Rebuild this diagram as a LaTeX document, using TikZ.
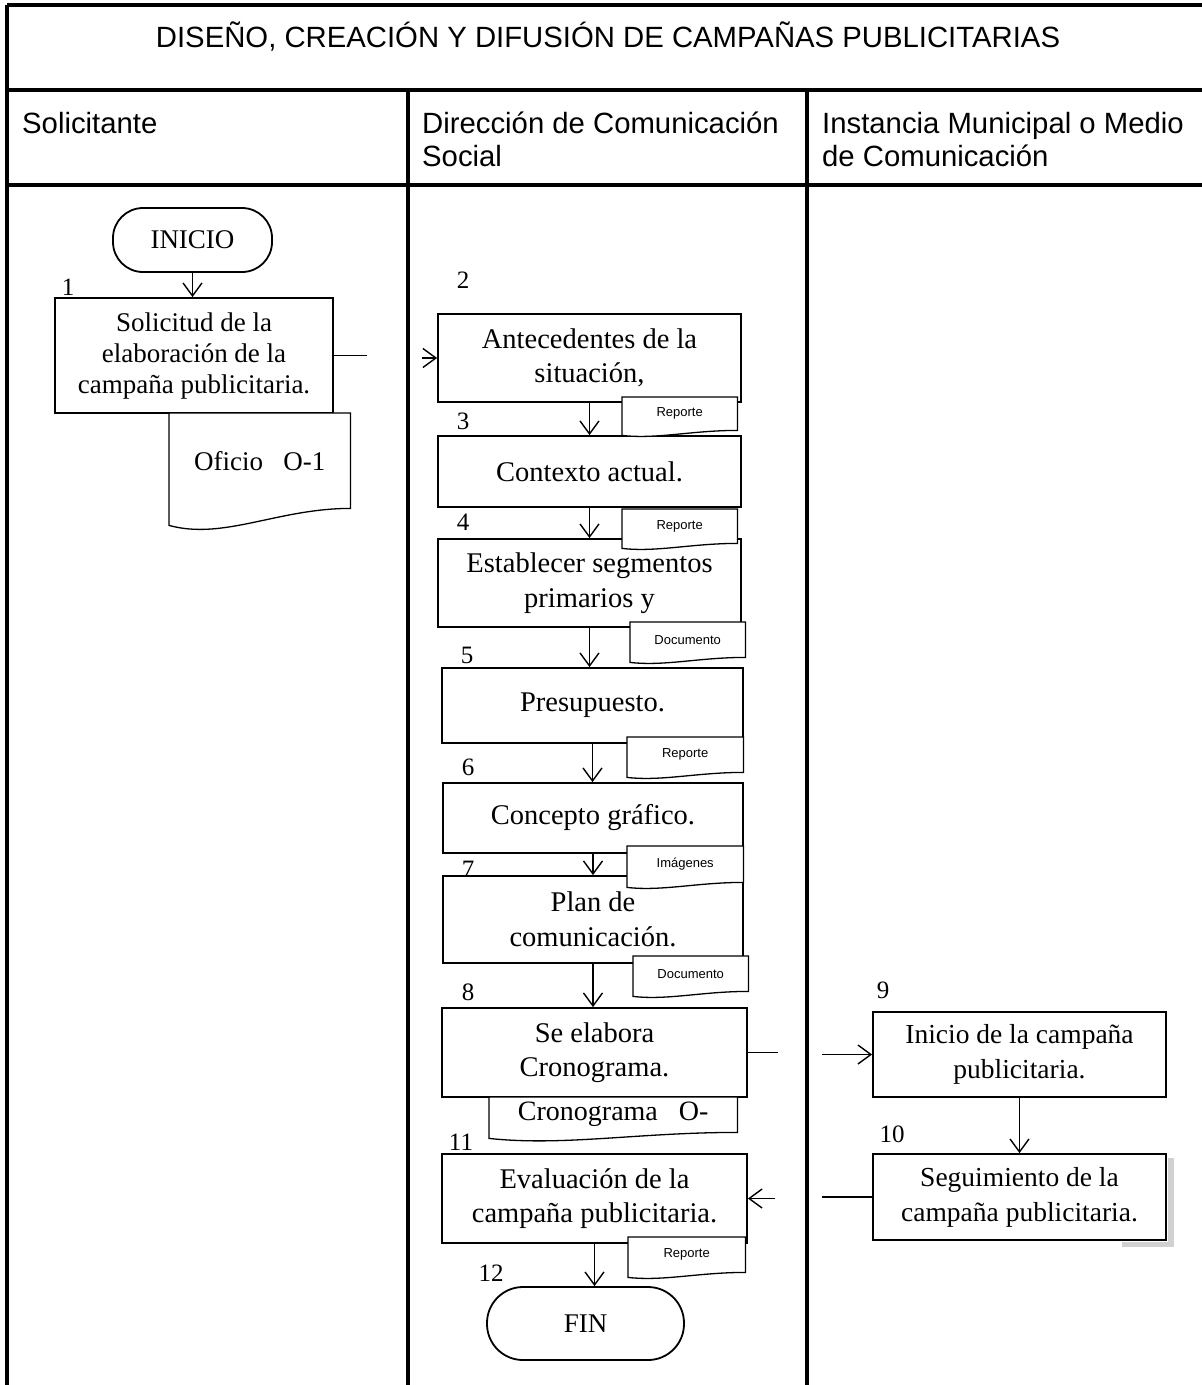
\documentclass[tikz,border=0pt]{standalone}
\usepackage{fontspec}
\setmainfont{Liberation Serif}
\newfontfamily\headfont{Liberation Sans}
\usetikzlibrary{calc,arrows.meta}

\tikzset{
  lane/.style={line width=3.5pt},
  lanehead/.style={anchor=north west, align=left, inner sep=0pt, font=\headfont\fontsize{29.3}{33}\selectfont},
  proc/.style={draw, line width=1.8pt, fill=white, inner sep=0pt, align=center, font=\fontsize{28.5}{34.5}\selectfont},
  term/.style={proc, font=\fontsize{27}{30}\selectfont},
  docbox/.style={inner sep=0pt, anchor=north west},
  doctext/.style={inner sep=0pt, align=center, font=\headfont\fontsize{13}{15}\selectfont},
  num/.style={inner sep=0pt, font=\fontsize{25}{28}\selectfont},
  link/.style={line width=1.4pt},
  flow/.style={link, -{Straight Barb[length=13pt,width=19pt]}},
}

\newcommand{\docwave}[4]{%
  \filldraw[fill=white, line width=1.3pt] (#1.south west) -- (#1.north west) -- (#1.north east)
    -- ($(#1.south east)+(0,-#3)$)
    .. controls ($(#1.south west)!0.6!(#1.south east)+(0,-#3)$)
    and ($(#1.south west)!0.3!(#1.south east)+(0,#2)$) .. (#1.south west) -- cycle;
  \node[doctext] at ($(#1.center)+(0,-#3/2)$) {#4};
}

\begin{document}
\begin{tikzpicture}[x=1pt, y=-1pt]
  \useasboundingbox (0,0) rectangle (1202,1385);

  \draw[lane] (7,5) -- (1202,5);
  \draw[lane] (7,90) -- (1202,90);
  \draw[lane] (7,185) -- (1202,185);
  \draw[lane] (7,5) -- (7,1385);
  \draw[lane] (408,90) -- (408,1385);
  \draw[lane] (807,90) -- (807,1385);

  \node[anchor=base, inner sep=0pt, font=\headfont\fontsize{29.3}{33}\selectfont] (title) at (608,47) {DISEÑO, CREACIÓN Y DIFUSIÓN DE CAMPAÑAS PUBLICITARIAS};
  \node[lanehead] (lane1) at (22,112) {Solicitante};
  \node[lanehead] (lane2) at (422,112) {Dirección de Comunicación\\Social};
  \node[lanehead] (lane3) at (822,112) {Instancia Municipal o Medio\\de Comunicación};

  \node[num] (n1) at (68,287) {1};
  \node[num] (n2) at (463,280) {2};
  \node[num] (n3) at (463,421) {3};
  \node[num] (n4) at (463,522) {4};
  \node[num] (n5) at (467,655) {5};
  \node[num] (n6) at (468,767) {6};
  \node[num] (n7) at (468,869) {7};
  \node[num] (n8) at (468,992) {8};
  \node[num] (n9) at (883,990) {9};
  \node[num] (n10) at (892,1134) {10};
  \node[num] (n11) at (461,1142) {11};
  \node[num] (n12) at (491,1273) {12};

  \node[term, minimum width=159, minimum height=64, rounded corners=30pt] (ini) at (192.5,240) {INICIO};
  \node[proc, minimum width=278, minimum height=115, font=\fontsize{27}{31}\selectfont] (b1) at (194,355.5) {Solicitud de la\\elaboración de la\\campaña publicitaria.};
  \node[proc, minimum width=303, minimum height=88] (b2) at (589.5,358) {Antecedentes de la\\situación,};
  \node[proc, minimum width=303, minimum height=71] (b3) at (589.5,471.5) {Contexto actual.};
  \node[proc, minimum width=303, minimum height=88] (b4) at (589.5,583) {Establecer segmentos\\primarios y};
  \node[proc, minimum width=301, minimum height=75] (b5) at (592.5,705.5) {Presupuesto.};
  \node[proc, minimum width=300, minimum height=70] (b6) at (593,818) {Concepto gráfico.};
  \node[proc, minimum width=300, minimum height=87] (b7) at (593,919.5) {Plan de\\comunicación.};
  \node[proc, minimum width=305, minimum height=89] (b8) at (594.5,1052.5) {Se elabora\\Cronograma.};
  \node[proc, minimum width=293, minimum height=85, font=\fontsize{27.5}{35}\selectfont] (b9) at (1019.5,1054.5) {Inicio de la campaña\\publicitaria.};
  \node[proc, minimum width=293, minimum height=86, font=\fontsize{27.5}{35}\selectfont] (b10) at (1019.5,1197) {Seguimiento de la\\campaña publicitaria.};
  \node[proc, minimum width=305, minimum height=89] (b11) at (594.5,1198.5) {Evaluación de la\\campaña publicitaria.};
  \node[term, minimum width=197, minimum height=73, rounded corners=36pt] (fin) at (585.5,1323.5) {FIN};

  \fill[black!18] ($(b10.north east)+(1,5)$) rectangle ($(b10.south east)+(7,6)$);
  \fill[black!18] ($(b10.south east)+(-45,1)$) rectangle ($(b10.south east)+(7,6)$);

  \node[docbox, minimum width=181, minimum height=112] (d1) at (169,413) {};
  \docwave{d1}{15}{17}{\rmfamily\fontsize{27}{30}\selectfont Oficio~~~O-1}
  \node[docbox, minimum width=115, minimum height=38] (d2) at (622,397) {};
  \docwave{d2}{4}{5}{Reporte}
  \node[docbox, minimum width=115, minimum height=39] (d3) at (622,509) {};
  \docwave{d3}{4}{5}{Reporte}
  \node[docbox, minimum width=115, minimum height=40] (d4) at (630,622) {};
  \docwave{d4}{4}{5}{Documento}
  \node[docbox, minimum width=116, minimum height=40] (d5) at (627,737) {};
  \docwave{d5}{4}{5}{Reporte}
  \node[docbox, minimum width=116, minimum height=41] (d6) at (627,846) {};
  \docwave{d6}{4}{5}{Imágenes}
  \node[docbox, minimum width=115, minimum height=40] (d7) at (633,956) {};
  \docwave{d7}{4}{5}{Documento}
  \node[docbox, minimum width=248, minimum height=41] (d8) at (489,1097) {};
  \docwave{d8}{8}{6}{\rmfamily\fontsize{28}{30}\selectfont Cronograma~~~O-}
  \node[docbox, minimum width=117, minimum height=40] (d11) at (628,1237) {};
  \docwave{d11}{4}{5}{Reporte}

  \coordinate (g1a) at (367,355.5);
  \coordinate (g1b) at (422,358);
  \coordinate (g8a) at (778,1052.5);
  \coordinate (g8b) at (822,1054.5);
  \coordinate (g10a) at (822,1197);
  \coordinate (g10b) at (775,1198.5);

  \draw[flow] (ini.south) -- (ini.south |- b1.north);
  \draw[link] (b1.east) -- (g1a);
  \draw[flow] (g1b) -- (b2.west);
  \draw[flow] (b2.south) -- (b2.south |- b3.north);
  \draw[flow] (b3.south) -- (b3.south |- b4.north);
  \draw[flow] (b4.south) -- (b4.south |- b5.north);
  \draw[flow] (b5.south) -- (b5.south |- b6.north);
  \draw[flow] (b6.south) -- (b6.south |- b7.north);
  \draw[flow] (b7.south) -- (b7.south |- b8.north);
  \draw[link] (b8.east) -- (g8a);
  \draw[flow] (g8b) -- (b9.west);
  \draw[flow] (b9.south) -- (b10.north);
  \draw[link] (b10.west) -- (g10a);
  \draw[flow] (g10b) -- (b11.east);
  \draw[flow] (b11.south) -- (b11.south |- fin.north);
\end{tikzpicture}
\end{document}
